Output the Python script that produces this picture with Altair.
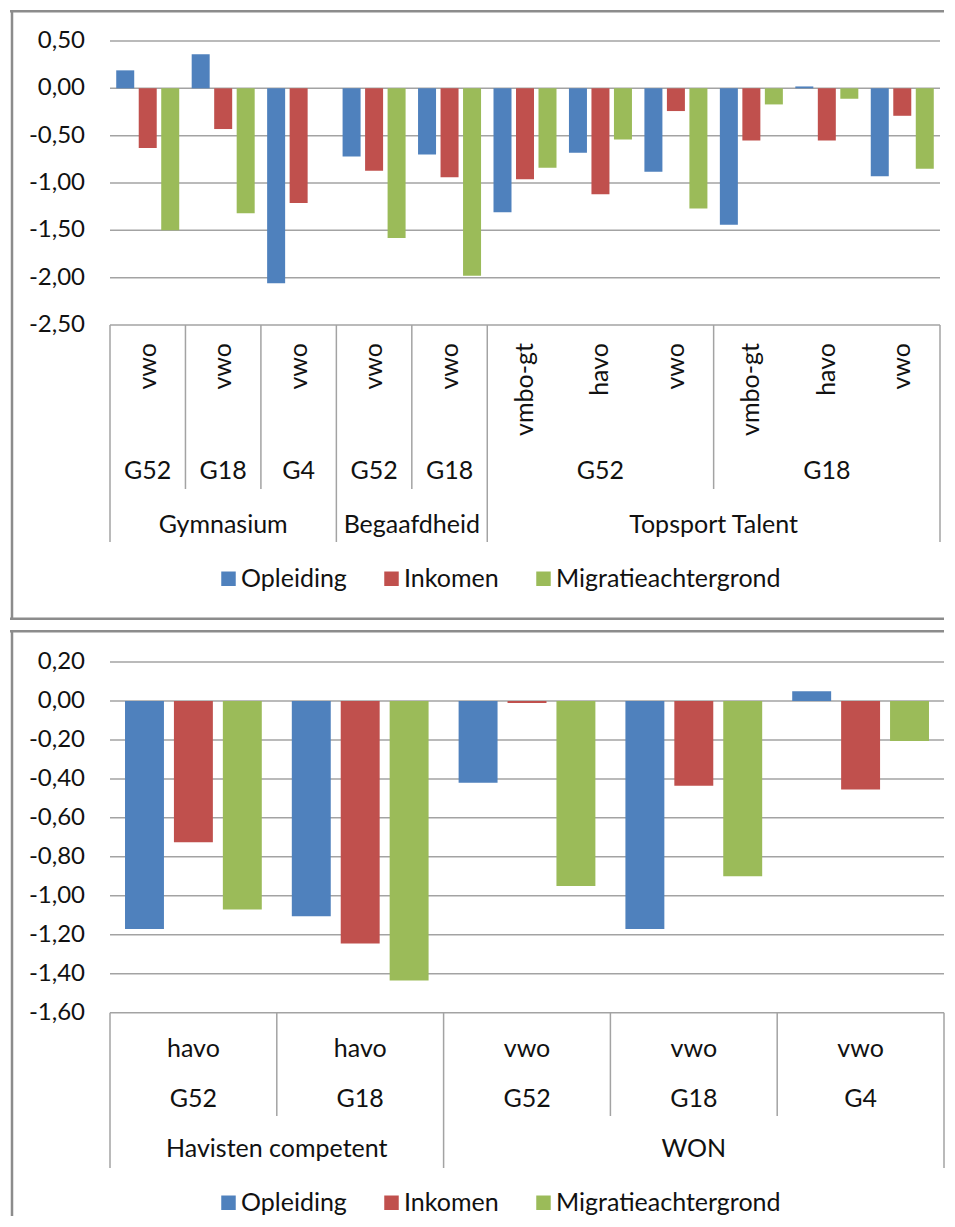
import altair as alt
import pandas as pd

# ---------------- data ----------------
series = ["Opleiding", "Inkomen", "Migratieachtergrond"]
colors = ["#4F81BD", "#C0504D", "#9BBB59"]

top_level1 = ["vwo", "vwo", "vwo", "vwo", "vwo", "vmbo-gt", "havo", "vwo", "vmbo-gt", "havo", "vwo"]
top_level2 = ["G52", "G18", "G4", "G52", "G18", "G52", "G52", "G52", "G18", "G18", "G18"]
top_level3 = ["Gymnasium", "Gymnasium", "Gymnasium", "Begaafdheid", "Begaafdheid",
              "Topsport Talent", "Topsport Talent", "Topsport Talent",
              "Topsport Talent", "Topsport Talent", "Topsport Talent"]
top_opleiding = [0.19, 0.36, -2.06, -0.72, -0.70, -1.31, -0.68, -0.88, -1.44, 0.02, -0.93]
top_inkomen = [-0.63, -0.43, -1.21, -0.87, -0.94, -0.96, -1.12, -0.24, -0.55, -0.55, -0.29]
top_migratie = [-1.50, -1.32, None, -1.58, -1.98, -0.84, -0.54, -1.27, -0.17, -0.11, -0.85]
top_ticks = [0.5, 0.0, -0.5, -1.0, -1.5, -2.0, -2.5]
top_tick_labels = ["0,50", "0,00", "-0,50", "-1,00", "-1,50", "-2,00", "-2,50"]

bot_level1 = ["havo", "havo", "vwo", "vwo", "vwo"]
bot_level2 = ["G52", "G18", "G52", "G18", "G4"]
bot_level3 = ["Havisten competent", "Havisten competent", "WON", "WON", "WON"]
bot_opleiding = [-1.17, -1.105, -0.42, -1.17, 0.05]
bot_inkomen = [-0.725, -1.245, -0.01, -0.435, -0.455]
bot_migratie = [-1.07, -1.435, -0.95, -0.90, -0.205]
bot_ticks = [0.2, 0.0, -0.2, -0.4, -0.6, -0.8, -1.0, -1.2, -1.4, -1.6]
bot_tick_labels = ["0,20", "0,00", "-0,20", "-0,40", "-0,60", "-0,80", "-1,00", "-1,20", "-1,40", "-1,60"]

FONT = "Lato"
FS = 25
FSY = 24
GRID = "#a3a3a3"
BORDER = "#8c8c8c"
TXT = "#111111"


def runs(keys):
    out = []
    start = 0
    for i in range(1, len(keys) + 1):
        if i == len(keys) or keys[i] != keys[start]:
            out.append((start, i, keys[start]))
            start = i
    return out


def panel(level1, level2, level3, vals, ticks, tick_labels, g):
    n = len(level1)
    rows = []
    for i in range(n):
        for s, v in zip(series, vals):
            if v[i] is not None:
                rows.append({"idx": i, "series": s, "value": v[i]})
    bars_df = pd.DataFrame(rows)

    yscale = alt.Scale(domain=[ticks[-1], ticks[0]], range=[g["ybot"], g["ytop"]], nice=False, zero=False)
    qscale = alt.Scale(domain=[0, n], range=[g["x0"], g["x1"]], nice=False, zero=False)

    bars = alt.Chart(bars_df).mark_bar().encode(
        x=alt.X("idx:O", axis=None,
                scale=alt.Scale(range=[g["x0"], g["x1"]], paddingInner=g["pin"], paddingOuter=g["pin"] / 2)),
        xOffset=alt.XOffset("series:N", sort=series,
                            scale=alt.Scale(domain=series, paddingInner=g["pio"], paddingOuter=0)),
        y=alt.Y("value:Q", scale=yscale, axis=None, stack=None),
        y2=alt.datum(0),
        color=alt.Color("series:N", scale=alt.Scale(domain=series, range=colors),
                        legend=alt.Legend(orient="none", legendX=g["legx"], legendY=g["legy"],
                                          direction="horizontal", title=None, symbolType="square",
                                          symbolSize=210, symbolStrokeWidth=0, labelFont=FONT,
                                          labelFontSize=FS, labelColor=TXT, labelOffset=0,
                                          labelLimit=1000, columnPadding=32, padding=0)),
    )

    tick_df = pd.DataFrame({"value": ticks, "label": tick_labels})
    grid = alt.Chart(tick_df).mark_rule(color=GRID, strokeWidth=1.5).encode(
        y=alt.Y("value:Q", scale=yscale, axis=None),
        x=alt.value(g["x0"]), x2=alt.value(g["x1"]),
    )
    ylabels = alt.Chart(tick_df).mark_text(align="right", baseline="middle", font=FONT,
                                           fontSize=FSY, color=TXT).encode(
        y=alt.Y("value:Q", scale=yscale, axis=None),
        x=alt.value(g["ylabx"]),
        text="label:N",
    )

    l1_df = pd.DataFrame({"pos": [i + 0.5 for i in range(n)], "label": level1})
    if g["rotate"]:
        l1 = alt.Chart(l1_df).mark_text(angle=270, align="right", baseline="middle", font=FONT,
                                        fontSize=FS, color=TXT)
    else:
        l1 = alt.Chart(l1_df).mark_text(align="center", baseline="middle", font=FONT,
                                        fontSize=FS, color=TXT)
    l1 = l1.encode(x=alt.X("pos:Q", scale=qscale, axis=None), y=alt.value(g["l1y"]), text="label:N")

    r2 = runs(list(zip(level3, level2)))
    r3 = runs(level3)
    l2_df = pd.DataFrame({"pos": [(a + b) / 2 for a, b, _ in r2], "label": [k[1] for _, _, k in r2]})
    l3_df = pd.DataFrame({"pos": [(a + b) / 2 for a, b, _ in r3], "label": [k for _, _, k in r3]})
    l2 = alt.Chart(l2_df).mark_text(align="center", baseline="middle", font=FONT, fontSize=FS,
                                    color=TXT).encode(
        x=alt.X("pos:Q", scale=qscale, axis=None), y=alt.value(g["l2y"]), text="label:N")
    l3 = alt.Chart(l3_df).mark_text(align="center", baseline="middle", font=FONT, fontSize=FS,
                                    color=TXT).encode(
        x=alt.X("pos:Q", scale=qscale, axis=None), y=alt.value(g["l3y"]), text="label:N")

    b3 = sorted({0} | {b for _, b, _ in r3})
    b2 = sorted({b for _, b, _ in r2} - set(b3))
    sep2 = alt.Chart(pd.DataFrame({"pos": b2})).mark_rule(color=GRID, strokeWidth=1.5).encode(
        x=alt.X("pos:Q", scale=qscale, axis=None), y=alt.value(g["ybot"]), y2=alt.value(g["s2"]))
    sep3 = alt.Chart(pd.DataFrame({"pos": b3})).mark_rule(color=GRID, strokeWidth=1.5).encode(
        x=alt.X("pos:Q", scale=qscale, axis=None), y=alt.value(g["ybot"]), y2=alt.value(g["s3"]))

    W, H, R = g["W"], g["H"], g["R"]
    borders = [
        alt.Chart().mark_rule(color=BORDER, strokeWidth=2.5).encode(
            x=alt.value(2), y=alt.value(0), y2=alt.value(H)),
        alt.Chart().mark_rule(color=BORDER, strokeWidth=2.5).encode(
            x=alt.value(0), x2=alt.value(R), y=alt.value(1.25)),
    ]
    if g["bottom_border"]:
        borders.append(alt.Chart().mark_rule(color=BORDER, strokeWidth=2.5).encode(
            x=alt.value(0), x2=alt.value(R), y=alt.value(H - 1.25)))

    return alt.layer(grid, sep2, sep3, bars, ylabels, l1, l2, l3, *borders).resolve_scale(
        x="independent", xOffset="independent").properties(width=W, height=H)


top_geo = dict(W=900, R=934, H=610, x0=100, x1=930, ytop=31, ybot=315, pin=0.165, pio=0.2, ylabx=75,
               rotate=True, l1y=333, l2y=461, l3y=515, s2=479, s3=532,
               legx=206, legy=556, bottom_border=True)
bot_geo = dict(W=900, R=934, H=586, x0=100, x1=934, ytop=32, ybot=382.7, pin=0.18, pio=0.204, ylabx=75,
               rotate=False, l1y=419, l2y=469, l3y=519, s2=486, s3=538,
               legx=206, legy=560, bottom_border=False)

top = panel(top_level1, top_level2, top_level3, [top_opleiding, top_inkomen, top_migratie],
            top_ticks, top_tick_labels, top_geo)
bottom = panel(bot_level1, bot_level2, bot_level3, [bot_opleiding, bot_inkomen, bot_migratie],
               bot_ticks, bot_tick_labels, bot_geo)

chart = alt.vconcat(top, bottom, spacing=6).resolve_scale(
    color="independent", xOffset="independent", x="independent", y="independent").properties(
    padding=0, background="white").configure_view(stroke="transparent", strokeWidth=0, strokeOpacity=0)

chart.save("out.html", embed_options={"renderer": "svg", "actions": False})
